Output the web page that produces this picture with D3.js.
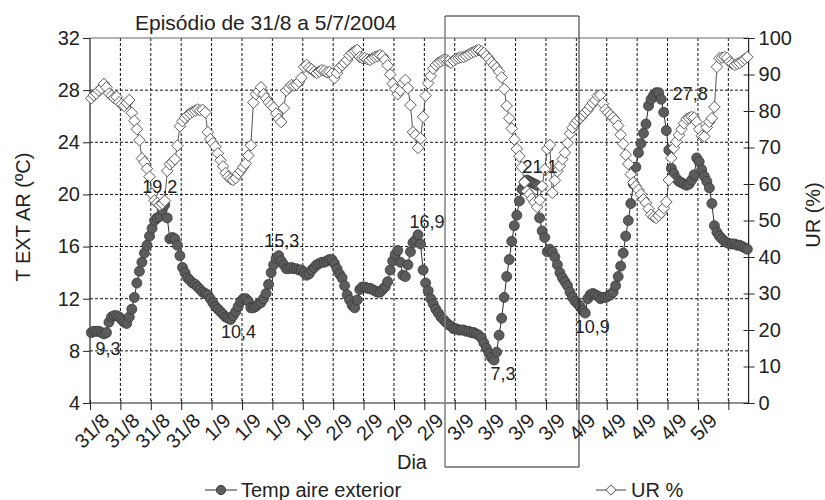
<!DOCTYPE html>
<html><head><meta charset="utf-8">
<script src="https://cdn.jsdelivr.net/npm/d3@7"></script>
<style>
body{margin:0;background:#fff;}
svg{display:block;font-family:"Liberation Sans",Arial,sans-serif;}
</style></head>
<body><svg id="c" width="825" height="500"></svg>
<script>
// ---- data (half-hourly readings, 31/8 00:00 onwards) ----
const xLabels = ["31/8","31/8","31/8","31/8","1/9","1/9","1/9","1/9","2/9","2/9","2/9","2/9","3/9","3/9","3/9","3/9","4/9","4/9","4/9","4/9","5/9",""];
const tempTicks = [4,8,12,16,20,24,28,32];
const urTicks = [0,10,20,30,40,50,60,70,80,90,100];
const tempAire = [
9.4,9.5,9.5,9.5,9.4,9.3,9.4,10.2,10.6,10.7,
10.7,10.6,10.4,10.2,10.1,10.6,11.2,12.1,13.2,14.1,
14.8,15.5,16.1,16.8,17.4,18.0,18.2,18.3,18.8,19.2,
18.2,16.6,16.7,16.6,16.1,15.3,14.4,14.0,13.6,13.4,
13.2,13.1,12.9,12.7,12.5,12.4,12.3,12.0,11.7,11.4,
11.2,11.0,10.8,10.6,10.5,10.4,10.7,11.0,11.4,11.8,
12.0,12.0,11.8,11.3,11.3,11.4,11.6,11.7,12.0,12.4,
13.1,14.0,14.6,15.1,15.3,14.9,14.6,14.3,14.3,14.4,
14.3,14.3,14.2,14.2,14.0,13.8,13.9,14.2,14.4,14.6,
14.7,14.8,14.8,14.9,15.0,15.0,14.7,14.3,13.9,13.6,
13.0,12.3,11.9,11.5,11.3,11.9,12.7,12.9,12.9,12.8,
12.8,12.7,12.6,12.5,12.5,12.7,12.9,13.3,14.2,14.9,
15.4,15.7,14.8,13.8,13.7,14.6,15.6,16.3,16.5,16.9,
16.2,14.2,13.2,12.6,12.0,11.6,11.2,10.9,10.6,10.4,
10.2,10.0,9.9,9.7,9.7,9.6,9.6,9.6,9.5,9.5,
9.4,9.4,9.3,9.2,9.0,8.6,8.2,7.8,7.5,7.3,
7.9,9.2,10.5,12.1,13.7,15.0,16.4,17.6,18.4,19.5,
20.4,20.9,21.1,21.0,20.9,20.8,20.7,18.2,17.2,16.7,
15.6,15.8,15.6,15.2,14.6,14.0,13.6,13.3,13.0,12.5,
12.1,11.8,11.6,11.4,11.1,10.9,12.0,12.3,12.4,12.3,
12.2,12.0,12.1,12.1,12.2,12.3,12.5,13.0,13.7,14.5,
15.5,16.8,18.0,19.3,20.8,22.1,23.2,23.9,24.7,25.4,
26.8,27.3,27.6,27.8,27.8,27.3,26.3,24.9,23.4,22.0,
21.6,21.2,21.0,20.9,20.8,20.7,20.8,21.1,21.5,22.8,
22.5,21.9,21.4,21.0,20.5,19.3,17.6,17.1,16.8,16.6,
16.4,16.3,16.2,16.2,16.2,16.1,16.1,16.0,15.9,15.8];
const urPct = [
83.5,84.3,84.8,85.6,86.2,87.4,86.5,84.8,84.2,83.6,
83.9,82.4,81.8,81.4,82.2,83.0,79.5,77.3,75.0,72.0,
67.0,66.0,64.2,62.0,57.3,55.5,54.8,54.2,54.6,55.4,
63.6,65.4,66.0,66.8,70.5,75.8,77.2,78.1,78.8,79.3,
79.8,80.1,80.4,80.2,80.3,79.6,74.2,72.3,71.2,70.2,
68.4,66.5,64.8,63.0,62.0,61.4,61.1,61.6,62.8,63.6,
64.6,65.6,67.8,70.6,82.3,84.6,85.4,86.5,84.6,83.5,
82.4,81.6,80.9,79.3,77.8,77.0,80.8,85.6,86.4,87.1,
87.0,87.2,88.0,89.1,92.1,92.6,91.8,91.4,90.8,90.4,
90.8,91.2,91.0,90.6,90.7,90.2,89.0,90.4,91.8,92.5,
93.2,94.0,95.2,95.9,96.4,96.7,94.8,94.5,94.5,94.2,
94.0,94.4,94.8,95.0,95.3,95.0,94.0,92.5,90.0,87.5,
86.0,84.6,85.6,87.6,88.5,86.3,81.6,74.2,73.4,69.9,
72.5,78.4,84.2,87.6,89.6,91.6,92.6,93.2,93.6,94.0,
94.1,93.6,93.2,93.8,94.3,94.5,94.7,94.8,95.1,95.5,
95.9,96.2,96.5,96.7,96.3,95.9,95.1,94.3,93.4,92.6,
91.8,90.8,89.2,86.0,81.4,78.0,75.2,72.2,69.6,67.6,
64.6,60.5,58.0,57.2,56.0,55.0,53.7,55.6,59.4,64.0,
69.6,70.7,57.6,61.0,63.5,65.0,66.8,68.6,71.2,73.8,
75.4,76.6,77.4,78.0,78.8,79.6,80.3,81.3,82.2,83.0,
84.2,84.4,82.0,80.4,79.6,78.9,78.2,77.4,76.0,73.5,
71.0,68.0,65.5,62.6,60.4,59.4,58.4,57.2,55.8,54.8,
53.2,51.6,51.0,50.7,51.3,52.1,53.4,55.1,61.1,67.1,
69.9,71.6,73.4,75.0,76.6,77.8,78.1,78.4,78.2,77.0,
75.0,73.2,73.0,75.5,77.0,78.0,81.1,92.1,94.5,94.6,
94.8,94.5,93.4,93.0,92.6,92.9,93.2,93.7,94.3,94.8];
const labelledPoints = [5,29,55,74,129,159,172,195,223]; // indices of annotated temperature values

// ---- layout ----
const L = 90, R = 748.6, T = 38, B = 403;
const svg = d3.select("#c");
const n = tempAire.length;
const x = d3.scaleLinear().domain([0, n]).range([L, R]);
const yT = d3.scaleLinear().domain([4, 32]).range([B, T]);
const yR = d3.scaleLinear().domain([0, 100]).range([B, T]);
const txt = "#222";

// grid
const g = svg.append("g");
g.selectAll("line.h").data(tempTicks.filter(v => v > 4 && v < 32)).join("line")
  .attr("x1", L).attr("x2", R).attr("y1", d => yT(d)).attr("y2", d => yT(d))
  .attr("stroke", "#111").attr("stroke-width", 1).attr("stroke-dasharray", "3,2");
const tickIdx = d3.range(0, xLabels.length).map(k => k * 12);
g.selectAll("line.v").data(tickIdx.slice(1)).join("line")
  .attr("x1", d => x(d)).attr("x2", d => x(d)).attr("y1", T).attr("y2", B)
  .attr("stroke", "#111").attr("stroke-width", 1).attr("stroke-dasharray", "3,2");

// top border
svg.append("line").attr("x1", L).attr("x2", R).attr("y1", T).attr("y2", T).attr("stroke", "#666");

// left axis
const ax = svg.append("g").attr("transform", `translate(${L},0)`)
  .call(d3.axisLeft(yT).tickValues(tempTicks).tickSize(7).tickPadding(3).tickFormat(d3.format("d")));
// right axis
const ar = svg.append("g").attr("transform", `translate(${R},0)`)
  .call(d3.axisRight(yR).tickValues(urTicks).tickSize(6).tickPadding(4).tickFormat(d3.format("d")));
ar.selectAll(".tick line").attr("x1", -5);
// bottom axis
const ab = svg.append("g").attr("transform", `translate(0,${B})`)
  .call(d3.axisBottom(x).tickValues(tickIdx).tickSize(7).tickFormat((d, i) => xLabels[i]));
ab.selectAll(".tick line").attr("y1", -3);
ab.selectAll(".tick text").attr("text-anchor", "end").attr("dy", null).attr("y", 0)
  .attr("transform", "translate(20,19) rotate(-45)").attr("font-size", 20);
[ax, ar, ab].forEach(a => {
  a.select(".domain").attr("stroke", "#222").attr("stroke-width", 1.2);
  a.selectAll(".tick line").attr("stroke", "#222");
  a.selectAll("text").attr("fill", txt).attr("font-family", "Liberation Sans, Arial, sans-serif");
});
ax.selectAll("text").attr("font-size", 20);
ar.selectAll("text").attr("font-size", 20);
ar.select(".domain").attr("d", `M0,${T}V${B}`);
ax.select(".domain").attr("d", `M0,${T}V${B}`);
ab.select(".domain").attr("d", `M${L},0H${R}`);

// series: temperature
const line = y => d3.line().x((d, i) => x(i + 0.5)).y(d => y(d));
svg.append("path").datum(tempAire).attr("d", line(yT)).attr("fill", "none")
  .attr("stroke", "#2e2e2e").attr("stroke-width", 1);
svg.append("g").selectAll("circle").data(tempAire).join("circle")
  .attr("cx", (d, i) => x(i + 0.5)).attr("cy", d => yT(d)).attr("r", 5)
  .attr("fill", "#5c5c5c").attr("stroke", "#3a3a3a").attr("stroke-width", 0.8);

// series: UR
svg.append("path").datum(urPct).attr("d", line(yR)).attr("fill", "none")
  .attr("stroke", "#444").attr("stroke-width", 0.9);
const dia = (cx, cy, h) => `M${cx},${cy - h}L${cx + h},${cy}L${cx},${cy + h}L${cx - h},${cy}Z`;
svg.append("g").selectAll("path").data(urPct).join("path")
  .attr("d", (d, i) => dia(x(i + 0.5), yR(d), 5.8))
  .attr("fill", "#fff").attr("stroke", "#4a4a4a").attr("stroke-width", 0.9);

// data labels
const lblOff = [[4,21],[-5,-12],[8,18],[3,-9],[9,-7],[9,20],[13,-7],[7,20],[34,7]];
const fmt = v => d3.format(".1f")(v).replace(".", ",");
svg.append("g").selectAll("text").data(labelledPoints).join("text")
  .attr("x", (d, j) => x(d + 0.5) + lblOff[j][0])
  .attr("y", (d, j) => yT(tempAire[d]) + lblOff[j][1])
  .attr("text-anchor", "middle").attr("font-size", 18).attr("fill", txt)
  .text(d => fmt(tempAire[d]));

// titles
svg.append("text").attr("x", 135).attr("y", 30).attr("font-size", 21).attr("fill", txt)
  .text("Episódio de 31/8 a 5/7/2004");
svg.append("text").attr("transform", "translate(30,217) rotate(-90)").attr("text-anchor", "middle")
  .attr("font-size", 20).attr("fill", txt).text("T EXT AR (ºC)");
svg.append("text").attr("transform", "translate(820,215) rotate(-90)").attr("text-anchor", "middle")
  .attr("font-size", 20).attr("fill", txt).text("UR (%)");
svg.append("text").attr("x", 412).attr("y", 469).attr("text-anchor", "middle")
  .attr("font-size", 20).attr("fill", txt).text("Dia");

// highlight rectangle
svg.append("path").attr("d", "M445,16V467").attr("stroke", "#808080").attr("stroke-width", 1.5).attr("fill", "none");
svg.append("path").attr("d", "M445,16H579V467H445").attr("stroke", "#222").attr("stroke-width", 1).attr("fill", "none");

// legend
const lg = svg.append("g");
lg.append("line").attr("x1", 205).attr("x2", 237).attr("y1", 490).attr("y2", 490).attr("stroke", "#2e2e2e");
lg.append("circle").attr("cx", 221).attr("cy", 490).attr("r", 4.6).attr("fill", "#5c5c5c").attr("stroke", "#3a3a3a");
lg.append("text").attr("x", 241).attr("y", 497).attr("font-size", 20).attr("fill", txt).text("Temp aire exterior");
lg.append("line").attr("x1", 596).attr("x2", 626).attr("y1", 490).attr("y2", 490).attr("stroke", "#444");
lg.append("path").attr("d", dia(611, 490, 5.2)).attr("fill", "#fff").attr("stroke", "#4a4a4a");
lg.append("text").attr("x", 631).attr("y", 497).attr("font-size", 20).attr("fill", txt).text("UR %");
</script></body></html>
